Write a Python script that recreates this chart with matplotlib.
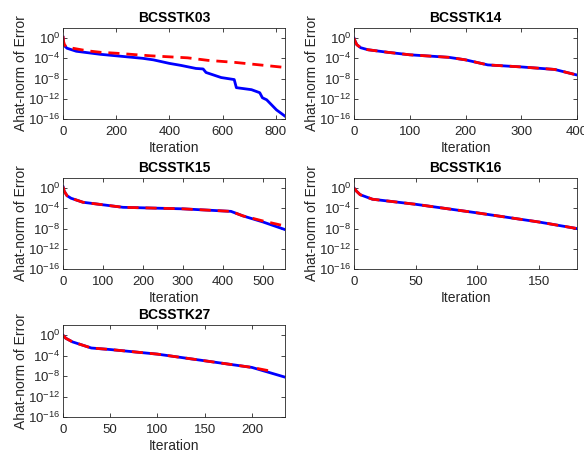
import numpy as np
import matplotlib.pyplot as plt
from matplotlib.ticker import FixedLocator, NullLocator

plt.rcParams['font.family'] = ['Liberation Sans', 'DejaVu Sans']
plt.rcParams['mathtext.fontset'] = 'custom'
plt.rcParams['mathtext.rm'] = 'Liberation Sans'
plt.rcParams['mathtext.it'] = 'Liberation Sans:italic'

# log10 of the Ahat-norm error
titles = ["BCSSTK03", "BCSSTK14", "BCSSTK15", "BCSSTK16", "BCSSTK27"]
xmax = [835, 400, 555, 181, 235]
xticks = [[0, 200, 400, 600, 800], [0, 100, 200, 300, 400],
          [0, 100, 200, 300, 400, 500], [0, 50, 100, 150], [0, 50, 100, 150, 200]]

blue_it = [
    [0, 2, 5, 15, 50, 140, 200, 300, 340, 400, 444, 500, 527, 538, 595, 644, 652, 709, 740, 750, 766, 803, 834],
    [0, 2, 5, 12, 25, 60, 100, 170, 200, 240, 300, 360, 400],
    [0, 3, 10, 20, 50, 100, 150, 300, 420, 450, 500, 555],
    [0, 2, 5, 15, 50, 100, 150, 181],
    [0, 3, 10, 30, 50, 100, 150, 200, 235],
]
blue_lg = [
    [0.2, -0.8, -1.5, -2.0, -2.6, -3.2, -3.5, -4.0, -4.3, -5.0, -5.4, -6.0, -6.1, -6.8, -7.8, -8.2, -9.8, -10.2, -10.8, -11.8, -12.2, -14.2, -15.4],
    [0.0, -0.6, -1.3, -1.9, -2.3, -2.8, -3.3, -3.8, -4.3, -5.3, -5.7, -6.2, -7.3],
    [0.3, -0.6, -1.5, -2.0, -2.8, -3.3, -3.8, -4.1, -4.6, -5.5, -6.7, -8.2],
    [0.0, -0.6, -1.3, -2.2, -3.2, -4.9, -6.7, -8.0],
    [0.0, -0.6, -1.3, -2.5, -2.8, -3.7, -5.0, -6.3, -8.2],
]
red_it = [
    [0, 2, 5, 15, 90, 140, 203, 330, 469, 545, 646, 834],
    [0, 2, 5, 12, 25, 60, 100, 170, 200, 240, 300, 360, 400],
    [0, 3, 10, 20, 50, 100, 150, 300, 420, 450, 500, 555],
    [0, 2, 5, 15, 50, 100, 150, 181],
    [0, 3, 10, 30, 50, 100, 150, 200, 222],
]
red_lg = [
    [0.4, -0.6, -1.3, -1.8, -2.5, -2.8, -3.0, -3.5, -3.9, -4.4, -4.8, -5.8],
    [0.0, -0.6, -1.3, -1.9, -2.3, -2.8, -3.3, -3.8, -4.3, -5.3, -5.7, -6.2, -7.3],
    [0.3, -0.6, -1.5, -2.0, -2.8, -3.3, -3.8, -4.1, -4.6, -5.5, -6.5, -7.5],
    [0.0, -0.6, -1.3, -2.2, -3.2, -4.9, -6.7, -8.0],
    [0.0, -0.6, -1.3, -2.5, -2.8, -3.7, -5.0, -6.3, -7.1],
]

W, H = 584, 453
fig = plt.figure(figsize=(W / 100, H / 100), dpi=100)

# pixel boxes (left, top, right, bottom)
boxes = [(63, 28, 285, 119), (354, 28, 577, 119),
         (63, 178, 285, 269), (354, 178, 577, 269),
         (63, 325, 285, 417)]

tc = '#262626'
for i in range(5):
    l, t, r, b = boxes[i]
    ax = fig.add_axes([l / W, 1 - b / H, (r - l) / W, (b - t) / H])
    ax.semilogy(blue_it[i], 10.0 ** np.array(blue_lg[i]), color='blue', lw=2)
    ax.semilogy(red_it[i], 10.0 ** np.array(red_lg[i]), color='red', lw=2,
                linestyle=(0, (4, 2.5)))
    ax.set_xlim(0, xmax[i])
    ax.set_ylim(1e-16, 1e2)
    ax.set_xticks(xticks[i])
    ax.yaxis.set_major_locator(FixedLocator([1e-16, 1e-12, 1e-8, 1e-4, 1e0]))
    ax.yaxis.set_minor_locator(NullLocator())
    ax.set_yticklabels([r'$\mathregular{10^{-16}}$', r'$\mathregular{10^{-12}}$',
                        r'$\mathregular{10^{-8}}$', r'$\mathregular{10^{-4}}$',
                        r'$\mathregular{10^{0}}$'])
    ax.tick_params(direction='in', top=True, right=True, length=3, width=0.6,
                   labelsize=9.5, colors=tc)
    ax.tick_params(axis='x', pad=5)
    ax.tick_params(axis='y', pad=2)
    for s in ax.spines.values():
        s.set_linewidth(0.6)
        s.set_color(tc)
    ax.set_title(titles[i], fontsize=10, fontweight='bold', pad=4)
    ax.set_xlabel('Iteration', fontsize=10, color=tc, labelpad=2)
    ax.set_ylabel('Ahat-norm of Error', fontsize=10, color=tc, labelpad=0)

fig.savefig('out.png', dpi=100)
